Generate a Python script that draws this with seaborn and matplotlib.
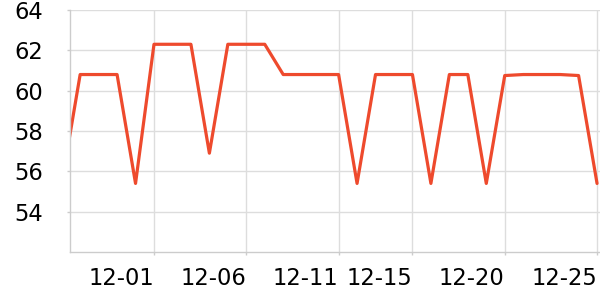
import matplotlib
matplotlib.use("Agg")
import matplotlib.pyplot as plt
import matplotlib.transforms as mtransforms
import seaborn as sns
import pandas as pd

dates = pd.date_range("2023-11-26", "2023-12-25", freq="D")
values = [55.4, 60.8, 60.8, 60.8, 55.4,
          62.3, 62.3, 62.3, 56.9, 62.3, 62.3, 62.3,
          60.8, 60.8, 60.8, 60.8, 55.4, 60.8, 60.8, 60.8,
          55.4, 60.8, 60.8, 55.4, 60.75, 60.8, 60.8, 60.8, 60.75, 55.4]
tick_dates = ["2023-12-01", "2023-12-06", "2023-12-11", "2023-12-15", "2023-12-20", "2023-12-25"]
tick_labels = ["12-01", "12-06", "12-11", "12-15", "12-20", "12-25"]
y_ticks = [54, 56, 58, 60, 62, 64]

df = pd.DataFrame({"date": dates, "value": values})

sns.set_theme(style="white")
plt.rcParams["font.family"] = ["DejaVu Sans"]

fig = plt.figure(figsize=(6, 3), dpi=100)
ax = fig.add_axes([70 / 600, 48 / 300, 530 / 600, 242 / 300])

sns.lineplot(data=df, x="date", y="value", ax=ax, color="#ee4a2d", linewidth=2.3)

x0 = pd.Timestamp("2023-12-01") - pd.Timedelta(days=4.55)
x1 = pd.Timestamp("2023-12-25") + pd.Timedelta(days=0.16)
ax.set_xlim(x0, x1)
ax.set_ylim(52, 64)

ax.set_xticks(pd.to_datetime(tick_dates))
ax.set_xticklabels(tick_labels, ha="right")
ax.set_yticks(y_ticks)
ax.set_yticklabels([str(v) for v in y_ticks])

ax.grid(True, color="#dddddd", linewidth=1)
ax.set_axisbelow(True)
for s in ["top", "right"]:
    ax.spines[s].set_visible(False)
for s in ["left", "bottom"]:
    ax.spines[s].set_color("#cccccc")
    ax.spines[s].set_linewidth(1)

ax.tick_params(axis="x", labelsize=16.3, colors="#cccccc", labelcolor="black",
               length=2, width=1, pad=9, direction="out", bottom=True)
ax.tick_params(axis="y", labelsize=16.3, colors="#cccccc", labelcolor="black",
               length=2, width=1, pad=24, left=True)
ax.set_xlabel("")
ax.set_ylabel("")

offset = mtransforms.ScaledTranslation(-56 / 100, 0, fig.dpi_scale_trans)
for lab in ax.get_yticklabels():
    lab.set_transform(ax.get_yaxis_transform() + offset)
    lab.set_ha("left")

fig.savefig("out.png", dpi=100)
